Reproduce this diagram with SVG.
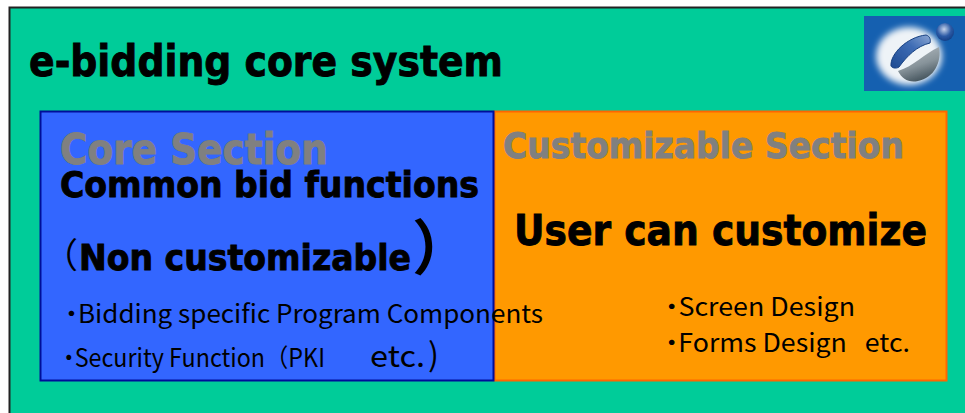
<svg xmlns="http://www.w3.org/2000/svg" width="965" height="413" viewBox="0 0 965 413">
<style>
.h{font-family:"DejaVu Sans","Noto Sans",sans-serif;font-weight:700;fill:#000;stroke:#000;stroke-width:.9px}
.g{fill:#808080;stroke:#808080}
.b{font-family:"Noto Sans CJK JP","Noto Sans",sans-serif;font-weight:400;fill:#000;font-size:25px}
.d{font-weight:900}
</style>
<defs>
<filter id="blur" x="-30%" y="-30%" width="160%" height="160%"><feGaussianBlur stdDeviation="3"/></filter>
<filter id="soft" x="-10%" y="-10%" width="120%" height="120%"><feGaussianBlur stdDeviation="0.6"/></filter>
<linearGradient id="ball" x1="0.2" y1="0" x2="0.6" y2="1"><stop offset="0" stop-color="#b4bcc2"/><stop offset="0.55" stop-color="#87939a"/><stop offset="1" stop-color="#3f4f58"/></linearGradient>
<linearGradient id="slot" x1="0" y1="1" x2="1" y2="0"><stop offset="0" stop-color="#1d4a92"/><stop offset="0.6" stop-color="#3f6db5"/><stop offset="1" stop-color="#8aa6d2"/></linearGradient>
<radialGradient id="dot" cx="0.45" cy="0.35" r="0.65"><stop offset="0" stop-color="#c5d3ea"/><stop offset="0.6" stop-color="#2c5aa5"/><stop offset="1" stop-color="#143f86"/></radialGradient>
</defs>
<rect width="965" height="413" fill="#fff"/>
<rect x="9.500" y="7.500" width="960" height="410" fill="#00cc99" stroke="#222" stroke-width="2"/>
<g id="logo">
<rect x="864" y="16" width="101" height="75" fill="#1560b0"/>
<ellipse cx="909" cy="56" rx="33" ry="29" fill="#eef3f7" filter="url(#blur)"/>
<g filter="url(#soft)">
<path d="M898 71C914 66 924 54 939 47C942 62 934 78 918 81C909 83 902 79 898 71Z" fill="url(#ball)"/>
<path d="M891 66C890 54 907 37 926 35C930 36 931 40 930 43C917 46 907 56 899 67C896 69 892 68 891 66Z" fill="url(#slot)" stroke="#173f80"/>
<circle cx="945" cy="32" r="9" fill="url(#dot)"/>
</g>
</g>
<g id="title"><text class="h" x="29" y="76" font-size="42" textLength="474" lengthAdjust="spacingAndGlyphs">e-bidding core system</text></g>
<g id="customizable-section">
<rect x="494.500" y="111.500" width="452" height="269" fill="#ff9900" stroke="#ff6600" stroke-width="2"/>
<text class="h g" x="503" y="158" font-size="36" textLength="401" lengthAdjust="spacingAndGlyphs">Customizable Section</text>
<text class="h" x="514" y="245" font-size="42" textLength="413" lengthAdjust="spacingAndGlyphs">User can customize</text>
</g>
<g id="core-section">
<rect x="40.500" y="111.500" width="453" height="269" fill="#3366ff" stroke="#000e99" stroke-width="2"/>
<text class="h g" x="60" y="164" font-size="43" textLength="268" lengthAdjust="spacingAndGlyphs">Core Section</text>
<text class="h" x="60" y="197" font-size="36" textLength="419" lengthAdjust="spacingAndGlyphs">Common bid functions</text>
<text class="b" x="43" y="268" style="font-size:35px">（</text>
<text class="h" x="79" y="270" font-size="36" textLength="332" lengthAdjust="spacingAndGlyphs">Non customizable</text>
<text class="b" x="412" y="270" style="font-size:60px;font-weight:700">）</text>
<text class="b" x="65" y="323" textLength="478" lengthAdjust="spacingAndGlyphs"><tspan class="d">･</tspan>Bidding specific Program Components</text>
<text class="b" x="63" y="367" textLength="262" lengthAdjust="spacingAndGlyphs"><tspan class="d">･</tspan>Security Function（PKI</text>
<text class="b" x="370" y="367" style="font-size:30px" textLength="55" lengthAdjust="spacingAndGlyphs">etc.</text>
<text class="b" x="428" y="366" style="font-size:32px" textLength="11" lengthAdjust="spacingAndGlyphs">)</text>
</g>
<g id="custom-list">
<text class="b" x="665" y="316" textLength="190" lengthAdjust="spacingAndGlyphs"><tspan class="d">･</tspan>Screen Design</text>
<text class="b" x="665" y="352" textLength="245" lengthAdjust="spacingAndGlyphs" xml:space="preserve"><tspan class="d">･</tspan>Forms Design   etc.</text>
</g>
</svg>
